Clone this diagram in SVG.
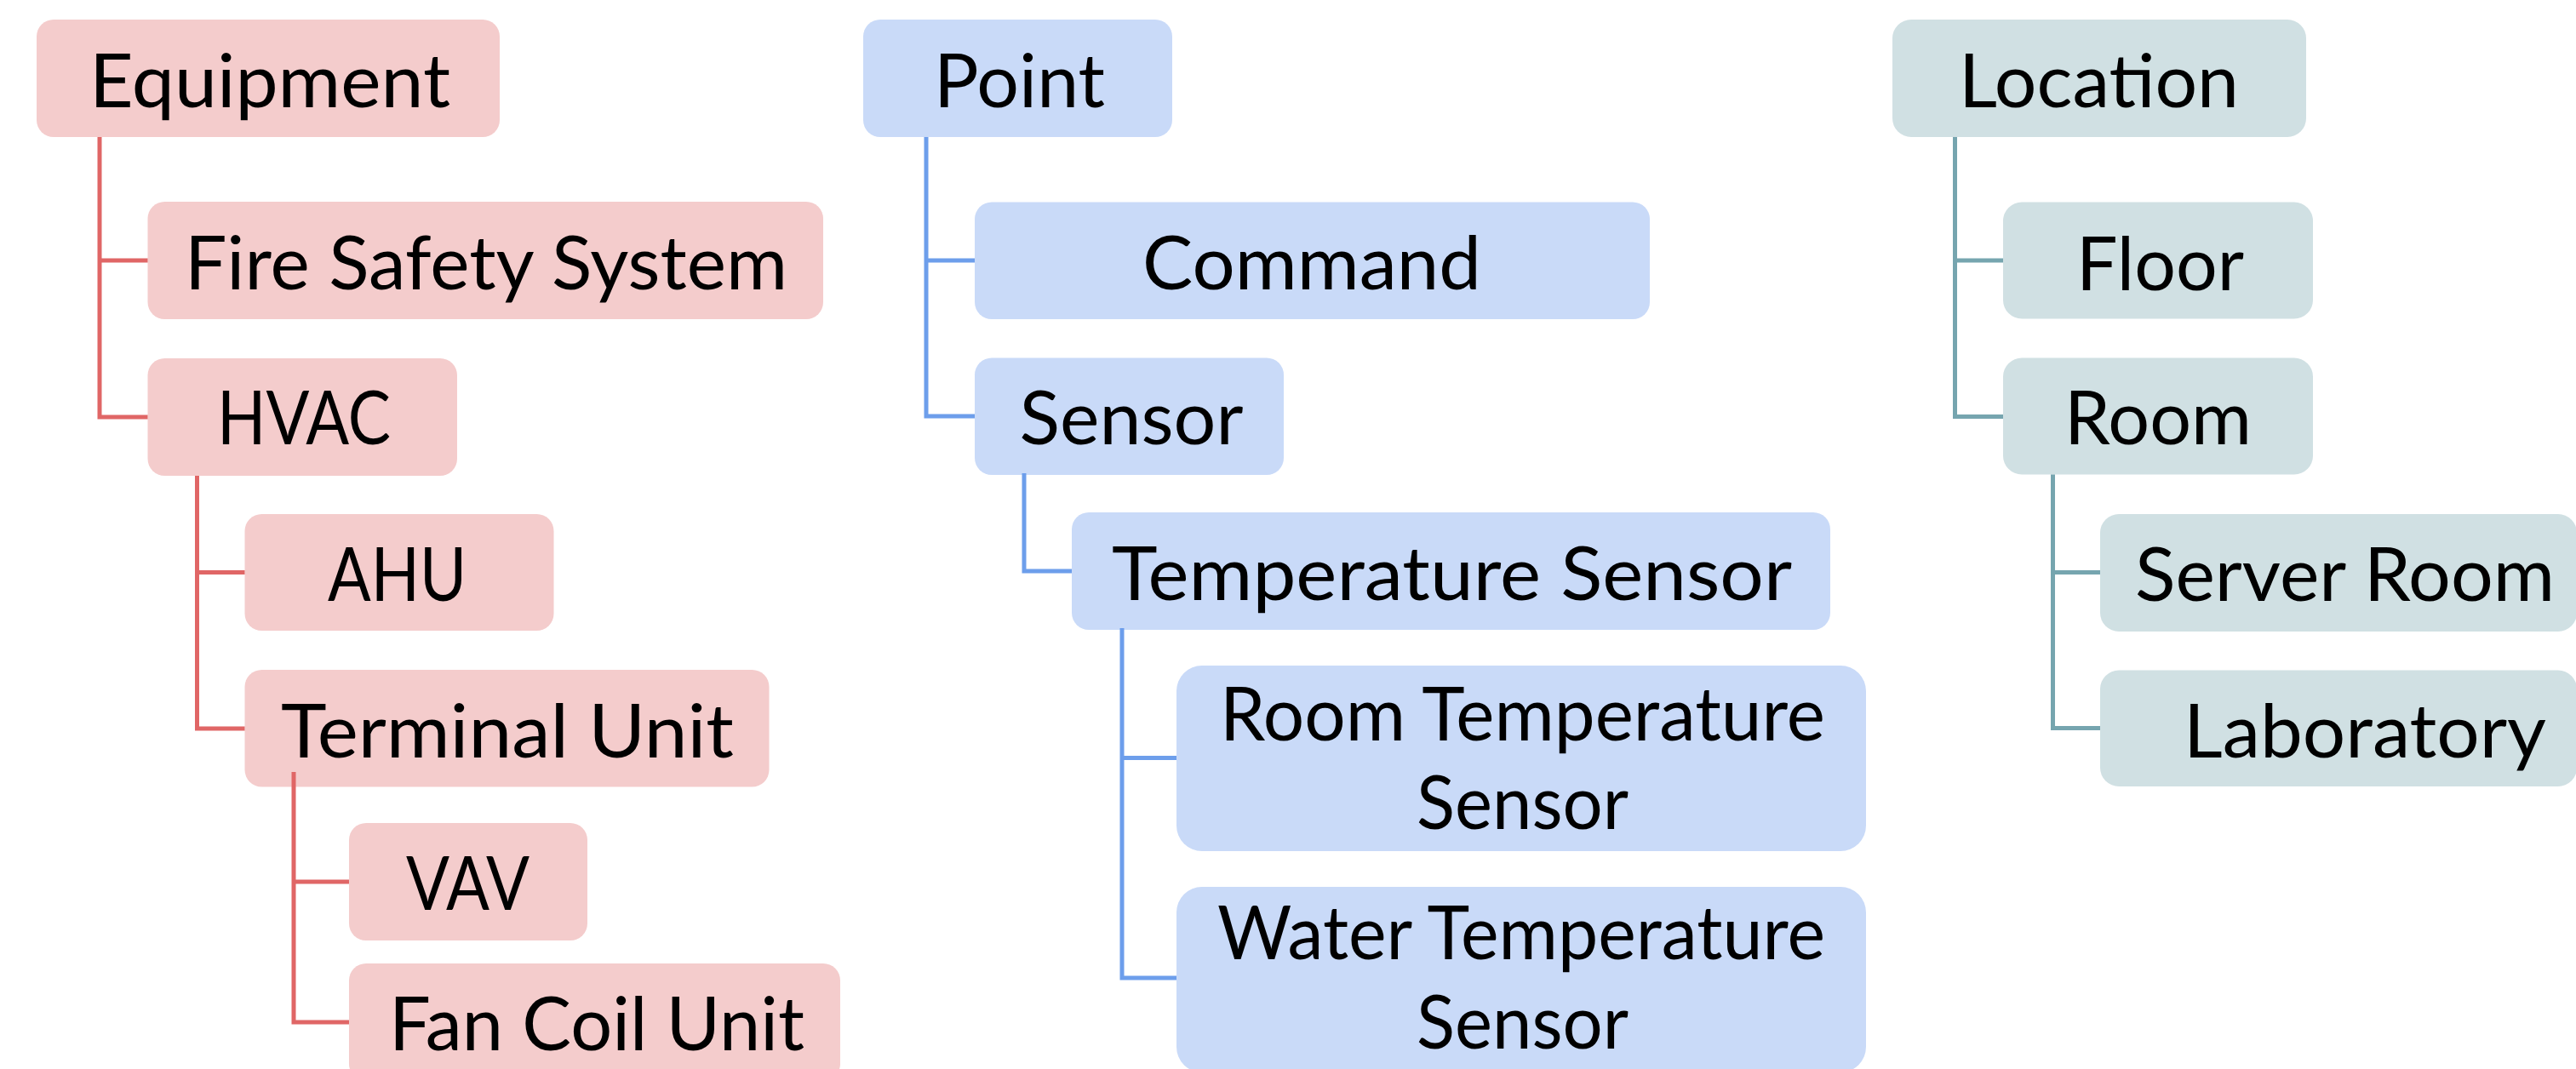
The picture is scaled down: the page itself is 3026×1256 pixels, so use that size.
<svg xmlns="http://www.w3.org/2000/svg" width="3026" height="1256" viewBox="0 0 3026 1256">
<style>
  .t { font-family: Lato, "Liberation Sans", sans-serif; font-size: 87px; fill: #000000; }
  .eq rect { fill: #F4CCCC; }
  .pt rect { fill: #C9DAF8; }
  .lc rect { fill: #D0E0E3; }
  .c { fill: none; stroke-width: 5; stroke-linecap: butt; stroke-linejoin: miter; }
  .cr { stroke: #E06666; }
  .cb { stroke: #6D9EEB; }
  .cg { stroke: #76A5AF; }
</style>
<rect x="0" y="0" width="3026" height="1256" fill="#FFFFFF"/>

<g id="nodes-equipment" class="eq">
  <g id="equipment"><rect x="43" y="23" width="544" height="138" rx="20"/><text class="t" x="105" y="126" textLength="424" lengthAdjust="spacingAndGlyphs">Equipment</text></g>
  <g id="fire-safety-system"><rect x="173.5" y="237" width="793.5" height="138" rx="20"/><text class="t" x="217" y="340" textLength="708" lengthAdjust="spacingAndGlyphs">Fire Safety System</text></g>
  <g id="hvac"><rect x="173.5" y="421" width="363.5" height="138" rx="20"/><text class="t" x="255" y="522" textLength="204" lengthAdjust="spacingAndGlyphs">HVAC</text></g>
  <g id="ahu"><rect x="287.5" y="604" width="363" height="137" rx="20"/><text class="t" x="385" y="706" textLength="163" lengthAdjust="spacingAndGlyphs">AHU</text></g>
  <g id="terminal-unit"><rect x="287.5" y="787" width="616" height="137.5" rx="20"/><text class="t" x="330" y="890" textLength="532" lengthAdjust="spacingAndGlyphs">Terminal Unit</text></g>
  <g id="vav"><rect x="410" y="967" width="280" height="138" rx="20"/><text class="t" x="477" y="1069" textLength="145" lengthAdjust="spacingAndGlyphs">VAV</text></g>
  <g id="fan-coil-unit"><rect x="410" y="1132" width="577" height="138" rx="20"/><text class="t" x="457" y="1234" textLength="488" lengthAdjust="spacingAndGlyphs">Fan Coil Unit</text></g>
</g>

<g id="nodes-point" class="pt">
  <g id="point"><rect x="1014" y="23" width="363" height="138" rx="20"/><text class="t" x="1097" y="126" textLength="201" lengthAdjust="spacingAndGlyphs">Point</text></g>
  <g id="command"><rect x="1145" y="237.5" width="793" height="137.5" rx="20"/><text class="t" x="1342" y="340" textLength="398" lengthAdjust="spacingAndGlyphs">Command</text></g>
  <g id="sensor"><rect x="1145" y="420.5" width="363" height="137.5" rx="20"/><text class="t" x="1197.5" y="522" textLength="263" lengthAdjust="spacingAndGlyphs">Sensor</text></g>
  <g id="temperature-sensor"><rect x="1259" y="602" width="891" height="138" rx="20"/><text class="t" x="1306" y="705" textLength="799" lengthAdjust="spacingAndGlyphs">Temperature Sensor</text></g>
  <g id="room-temperature-sensor"><rect x="1382" y="782" width="810" height="218" rx="30"/><text class="t" x="1433" y="870" textLength="711" lengthAdjust="spacingAndGlyphs">Room Temperature</text><text class="t" x="1664" y="974" textLength="249" lengthAdjust="spacingAndGlyphs">Sensor</text></g>
  <g id="water-temperature-sensor"><rect x="1382" y="1042" width="810" height="218" rx="30"/><text class="t" x="1430" y="1127" textLength="714" lengthAdjust="spacingAndGlyphs">Water Temperature</text><text class="t" x="1664" y="1232" textLength="249" lengthAdjust="spacingAndGlyphs">Sensor</text></g>
</g>

<g id="nodes-location" class="lc">
  <g id="location"><rect x="2223" y="23" width="486" height="138" rx="22"/><text class="t" x="2301" y="126" textLength="329" lengthAdjust="spacingAndGlyphs">Location</text></g>
  <g id="floor"><rect x="2353" y="237.5" width="364" height="137" rx="22"/><text class="t" x="2439" y="340.5" textLength="197" lengthAdjust="spacingAndGlyphs">Floor</text></g>
  <g id="room"><rect x="2353" y="420.5" width="364" height="137" rx="22"/><text class="t" x="2425" y="522" textLength="220" lengthAdjust="spacingAndGlyphs">Room</text></g>
  <g id="server-room"><rect x="2467" y="604" width="560" height="138" rx="22"/><text class="t" x="2508" y="706" textLength="493" lengthAdjust="spacingAndGlyphs">Server Room</text></g>
  <g id="laboratory"><rect x="2467" y="787.5" width="560" height="136.5" rx="22"/><text class="t" x="2565" y="890" textLength="426" lengthAdjust="spacingAndGlyphs">Laboratory</text></g>
</g>

<g id="connectors">
  <path class="c cr" d="M117,161 V490 H173.5 M117,306 H173.5"/>
  <path class="c cr" d="M231.5,559 V856 H287.5 M231.5,672.5 H287.5"/>
  <path class="c cr" d="M345,907 V1201 H410 M345,1036 H410"/>
  <path class="c cb" d="M1088,161 V489 H1145 M1088,306 H1145"/>
  <path class="c cb" d="M1203,556 V671 H1259"/>
  <path class="c cb" d="M1318,738 V1149 H1382 M1318,890.5 H1382"/>
  <path class="c cg" d="M2296.5,161 V489.5 H2353 M2296.5,306 H2353"/>
  <path class="c cg" d="M2411.5,557.5 V855.5 H2467 M2411.5,672.5 H2467"/>
</g>
</svg>
